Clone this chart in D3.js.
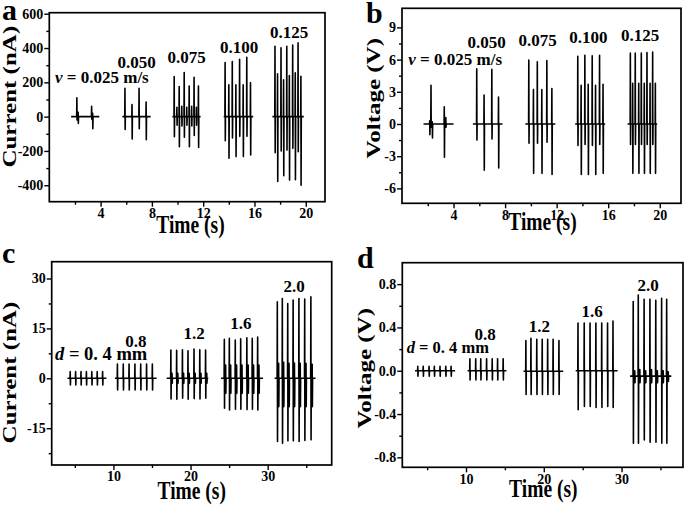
<!DOCTYPE html>
<html><head><meta charset="utf-8">
<script src="https://cdn.jsdelivr.net/npm/d3@7"></script>
<style>
body{margin:0;background:#fff}
svg text{font-family:"Liberation Serif","Times New Roman",serif !important;font-weight:bold;fill:#000}
</style>
</head><body>
<svg id="fig" width="685" height="506"></svg>
<script>
// ---------------- Panel a : current vs time, varying speed ----------------
const aLabels = ["v = 0.025 m/s", "0.050", "0.075", "0.100", "0.125"];
const aStart = [1.7, 5.7, 9.6, 13.6, 17.4];
const aEnd   = [3.9, 7.9, 11.8, 15.9, 19.85];
const aBase  = [0, 0, 0, 0, 0];
const aSpikeT = [
  [2.15, 2.25, 3.3, 3.38],
  [5.9, 6.45, 7.0, 7.55],
  [9.74, 9.95, 10.13, 10.33, 10.52, 10.72, 10.91, 11.1, 11.29, 11.47, 11.63],
  [13.71, 14.0, 14.27, 14.55, 14.84, 15.12, 15.4, 15.69],
  [17.6, 17.8, 18.07, 18.27, 18.52, 18.72, 18.98, 19.18, 19.4, 19.62]
];
const aSpikeHi = [
  [110, 25, 60, 20],
  [165, 70, 165, 85],
  [233, 55, 175, 60, 257, 55, 179, 60, 229, 55, 179],
  [315, 185, 321, 185, 334, 185, 346, 198],
  [410, 250, 402, 215, 410, 240, 418, 255, 430, 235]
];
const aSpikeLo = [
  [-20, -40, -15, -70],
  [-75, -130, -70, -135],
  [-117, -50, -175, -55, -120, -50, -175, -55, -110, -50, -180],
  [-140, -243, -125, -233, -115, -233, -115, -223],
  [-210, -378, -200, -345, -195, -370, -185, -368, -205, -400]
];
const aXTicks = [4, 8, 12, 16, 20];
const aXTickLabels = ["4", "8", "12", "16", "20"];
const aXMinor = [2, 6, 10, 14, 18];
const aYTicks = [-400, -200, 0, 200, 400, 600];
const aYTickLabels = ["-400", "-200", "0", "200", "400", "600"];
const aYMinor = [-300, -100, 100, 300, 500];

// ---------------- Panel b : voltage vs time, varying speed ----------------
const bLabels = ["v = 0.025 m/s", "0.050", "0.075", "0.100", "0.125"];
const bStart = [1.67, 5.5, 9.57, 13.44, 17.5];
const bEnd   = [4.0, 7.8, 11.9, 15.77, 19.8];
const bBase  = [0, 0, 0, 0, 0];
const bSpikeT = [
  [2.15, 2.25, 2.35, 3.28, 3.4],
  [5.8, 6.37, 6.97, 7.49],
  [9.84, 10.2, 10.5, 10.85, 11.24, 11.63],
  [13.64, 13.9, 14.19, 14.45, 14.76, 15.02, 15.33, 15.6],
  [17.72, 17.9, 18.1, 18.37, 18.57, 18.8, 19.01, 19.25, 19.45, 19.66]
];
const bSpikeHi = [
  [0.3, 3.6, 0.2, 1.6, 0.6],
  [5.15, 2.7, 5.1, 2.5],
  [5.95, 3.2, 5.8, 3.2, 5.9, 3.3],
  [6.3, 3.6, 6.4, 3.7, 6.35, 3.6, 6.4, 3.7],
  [6.6, 3.8, 6.6, 3.8, 6.6, 3.8, 6.65, 3.8, 6.7, 3.8]
];
const bSpikeLo = [
  [-1.0, -0.3, -1.3, -3.1, -0.3],
  [-1.5, -4.3, -1.4, -4.1],
  [-1.8, -4.6, -1.8, -4.6, -1.7, -4.7],
  [-2.0, -4.7, -1.9, -4.7, -2.0, -4.7, -1.9, -4.6],
  [-1.9, -4.6, -1.9, -4.6, -1.9, -4.6, -1.9, -4.6, -1.9, -4.6]
];
const bXTicks = [4, 8, 12, 16, 20];
const bXTickLabels = ["4", "8", "12", "16", "20"];
const bXMinor = [2, 6, 10, 14, 18];
const bYTicks = [-6, -3, 0, 3, 6, 9];
const bYTickLabels = ["-6", "-3", "0", "3", "6", "9"];
const bYMinor = [-4.5, -1.5, 1.5, 4.5, 7.5];

// ---------------- Panel c : current vs time, varying distance ----------------
const cLabels = ["d = 0. 4 mm", "0.8", "1.2", "1.6", "2.0"];
const cStart = [4.05, 10.2, 16.9, 23.95, 30.9];
const cEnd   = [9.1, 15.6, 22.3, 29.4, 36.2];
const cBase  = [0, 0, 0, 0, 0];
const cSpikeT = [
  [4.4, 5.1, 5.8, 6.5, 7.2, 7.9, 8.6],
  [10.52, 11.28, 12.03, 12.79, 13.54, 14.3, 15.05],
  [17.45, 17.6, 18.2, 18.35, 18.95, 19.1, 19.67, 19.82, 20.45, 20.6, 21.2, 21.35, 21.95, 22.1],
  [24.38, 24.55, 25.03, 25.2, 25.8, 25.97, 26.5, 26.67, 27.3, 27.47, 28.0, 28.17, 28.7, 28.87],
  [31.25, 31.42, 31.9, 32.07, 32.6, 32.77, 33.3, 33.47, 34.05, 34.22, 34.8, 34.97, 35.6, 35.77]
];
const cSpikeHi = [
  [2.0, 2.0, 2.0, 2.0, 2.0, 2.0, 2.0],
  [4.3, 4.3, 4.3, 4.3, 4.3, 4.3, 4.3],
  [8.5, 1.5, 8.4, 1.5, 8.6, 1.5, 8.3, 1.5, 8.8, 1.5, 8.6, 1.5, 8.5, 1.5],
  [11.7, 4.0, 12.0, 4.0, 11.5, 4.0, 11.9, 4.0, 12.2, 4.0, 12.0, 4.0, 12.4, 4.0],
  [23.0, 4.5, 24.0, 4.8, 22.5, 4.5, 23.5, 4.6, 24.0, 4.5, 23.8, 4.5, 24.5, 4.2]
];
const cSpikeLo = [
  [-2.0, -2.0, -2.0, -2.0, -2.0, -2.0, -2.0],
  [-3.5, -3.5, -3.5, -3.5, -3.5, -3.5, -3.5],
  [-6.2, -1.5, -6.3, -1.5, -6.0, -1.5, -6.3, -1.5, -6.1, -1.5, -6.2, -1.5, -6.0, -1.5],
  [-9.0, -4.5, -9.5, -4.5, -9.3, -4.5, -9.3, -4.5, -9.4, -4.5, -9.3, -4.5, -9.5, -4.5],
  [-19.0, -8.5, -19.5, -8.5, -18.8, -8.5, -18.8, -8.5, -19.0, -8.5, -18.7, -8.5, -18.5, -8.5]
];
const cXTicks = [10, 20, 30];
const cXTickLabels = ["10", "20", "30"];
const cXMinor = [5, 15, 25, 35];
const cYTicks = [-15, 0, 15, 30];
const cYTickLabels = ["-15", "0", "15", "30"];
const cYMinor = [-22.5, -7.5, 7.5, 22.5];

// ---------------- Panel d : voltage vs time, varying distance ----------------
const dLabels = ["d = 0. 4 mm", "0.8", "1.2", "1.6", "2.0"];
const dStart = [3.45, 10.2, 17.4, 24.1, 31.1];
const dEnd   = [8.6, 15.2, 22.5, 29.5, 36.4];
const dBase  = [0, 0, -0.005, 0, -0.05];
const dSpikeT = [
  [3.8, 4.5, 5.25, 5.93, 6.66, 7.4, 8.08],
  [10.5, 11.25, 11.9, 12.65, 13.37, 14.06, 14.78],
  [17.7, 18.35, 19.1, 19.8, 20.5, 21.2, 21.95],
  [24.4, 25.2, 25.95, 26.7, 27.45, 28.2, 28.9],
  [31.5, 31.7, 32.15, 32.35, 32.9, 33.1, 33.65, 33.85, 34.4, 34.6, 35.15, 35.35, 35.8, 36.0]
];
const dSpikeHi = [
  [0.04, 0.04, 0.04, 0.04, 0.04, 0.04, 0.04],
  [0.11, 0.11, 0.11, 0.11, 0.11, 0.11, 0.11],
  [0.28, 0.30, 0.29, 0.29, 0.29, 0.29, 0.28],
  [0.44, 0.44, 0.44, 0.44, 0.44, 0.44, 0.46],
  [0.64, 0.0, 0.70, 0.01, 0.66, 0.0, 0.66, 0.01, 0.65, 0.0, 0.67, 0.0, 0.66, -0.01]
];
const dSpikeLo = [
  [-0.05, -0.05, -0.05, -0.05, -0.05, -0.05, -0.05],
  [-0.085, -0.085, -0.085, -0.085, -0.085, -0.085, -0.085],
  [-0.22, -0.22, -0.22, -0.22, -0.22, -0.22, -0.22],
  [-0.36, -0.33, -0.33, -0.34, -0.34, -0.33, -0.34],
  [-0.67, -0.11, -0.67, -0.11, -0.64, -0.11, -0.66, -0.11, -0.66, -0.11, -0.67, -0.11, -0.67, -0.1]
];
const dXTicks = [10, 20, 30];
const dXTickLabels = ["10", "20", "30"];
const dXMinor = [5, 15, 25, 35];
const dYTicks = [-0.8, -0.4, 0.0, 0.4, 0.8];
const dYTickLabels = ["-0.8", "-0.4", "0.0", "0.4", "0.8"];
const dYMinor = [-0.6, -0.2, 0.2, 0.6];

// ---------------- layout / options built from the arrays ----------------
const panels = [
  {letter:"a", letterPos:[2,20], frame:[49.3,325,12.7,201.7], xDom:[0,21.5], yDom:[-496,606],
   start:aStart, end:aEnd, base:aBase, T:aSpikeT, H:aSpikeHi, L:aSpikeLo,
   xT:aXTicks, xTL:aXTickLabels, xM:aXMinor, yT:aYTicks, yTL:aYTickLabels, yM:aYMinor,
   labels:aLabels, labelPos:[[55,83.3],[136.7,68.3],[186.7,63.3],[239,52.7],[289,38.3]], lab0Size:17,
   xTitle:"Time (s)", xTitlePos:[190.5,233.3], yTitle:"Current (nA)", yTitlePos:[16,96.7]},
  {letter:"b", letterPos:[366,23], frame:[402,681,8.3,203.3], xDom:[0,21.65], yDom:[-7.39,10.78],
   start:bStart, end:bEnd, base:bBase, T:bSpikeT, H:bSpikeHi, L:bSpikeLo,
   xT:bXTicks, xTL:bXTickLabels, xM:bXMinor, yT:bYTicks, yTL:bYTickLabels, yM:bYMinor,
   labels:bLabels, labelPos:[[408.3,65],[486.7,48.3],[537.7,46],[588.3,42.7],[640,40.7]], lab0Size:17,
   xTitle:"Time (s)", xTitlePos:[542.5,230], yTitle:"Voltage (V)", yTitlePos:[380,98.3]},
  {letter:"c", letterPos:[2,263], frame:[51.7,331.7,261.7,465], xDom:[2,38.3], yDom:[-26.06,35.05],
   start:cStart, end:cEnd, base:cBase, T:cSpikeT, H:cSpikeHi, L:cSpikeLo,
   xT:cXTicks, xTL:cXTickLabels, xM:cXMinor, yT:cYTicks, yTL:cYTickLabels, yM:cYMinor,
   labels:cLabels, labelPos:[[55,360],[135.8,346.7],[194.2,339.3],[240.8,329.3],[294.2,292.3]], lab0Size:18.5,
   xTitle:"Time (s)", xTitlePos:[191.7,499], yTitle:"Current (nA)", yTitlePos:[16,372.5]},
  {letter:"d", letterPos:[357,268], frame:[402.3,683,262.7,467.3], xDom:[1.81,37.9], yDom:[-0.892,0.998],
   start:dStart, end:dEnd, base:dBase, T:dSpikeT, H:dSpikeHi, L:dSpikeLo,
   xT:dXTicks, xTL:dXTickLabels, xM:dXMinor, yT:dYTicks, yTL:dYTickLabels, yM:dYMinor,
   labels:dLabels, labelPos:[[406.7,353.3],[485,340],[539.3,331.7],[592,316.7],[648,290.7]], lab0Size:16.5,
   xTitle:"Time (s)", xTitlePos:[543.3,497], yTitle:"Voltage (V)", yTitlePos:[371,368.3]}
];

const FONT = '"Liberation Serif","Times New Roman",serif';
const svg = d3.select("#fig");

panels.forEach(p => {
  const [L, R, T, B] = p.frame;
  const x = d3.scaleLinear().domain(p.xDom).range([L, R]);
  const y = d3.scaleLinear().domain(p.yDom).range([B, T]);
  const g = svg.append("g");

  // traces
  const dt = (p.xDom[1] - p.xDom[0]) * 0.0007;
  const line = d3.line().x(d => x(d[0])).y(d => y(d[1]));
  p.start.forEach((s, gi) => {
    const b = p.base[gi];
    const pts = [[s, b]];
    p.T[gi].forEach((t, k) => {
      pts.push([t - dt, b], [t, p.H[gi][k]], [t + dt, p.L[gi][k]], [t + 2 * dt, b]);
    });
    pts.push([p.end[gi], b]);
    g.append("path").attr("d", line(pts)).attr("fill", "none")
      .attr("stroke", "#000").attr("stroke-width", 1.6).attr("stroke-linejoin", "round");
  });

  // frame
  g.append("rect").attr("x", L).attr("y", T).attr("width", R - L).attr("height", B - T)
    .attr("fill", "none").attr("stroke", "#000").attr("stroke-width", 1.7);

  // axes
  const styleAxis = sel => {
    sel.select(".domain").remove();
    sel.attr("font-family", null).attr("font-size", null);
    sel.selectAll("line").attr("stroke", "#000").attr("stroke-width", 1.4);
    sel.selectAll("text").attr("font-size", 14).attr("fill", "#000")
      .style("font-family", FONT).style("font-weight", "bold");
  };
  g.append("g").attr("transform", `translate(0,${B})`)
    .call(d3.axisBottom(x).tickValues(p.xT).tickFormat((d, i) => p.xTL[i]).tickSizeInner(5).tickSizeOuter(0).tickPadding(1.5))
    .call(styleAxis);
  g.append("g").attr("transform", `translate(0,${B})`)
    .call(d3.axisBottom(x).tickValues(p.xM).tickFormat("").tickSizeInner(3).tickSizeOuter(0))
    .call(styleAxis);
  g.append("g").attr("transform", `translate(${L},0)`)
    .call(d3.axisLeft(y).tickValues(p.yT).tickFormat((d, i) => p.yTL[i]).tickSizeInner(5).tickSizeOuter(0).tickPadding(1))
    .call(styleAxis);
  g.append("g").attr("transform", `translate(${L},0)`)
    .call(d3.axisLeft(y).tickValues(p.yM).tickFormat("").tickSizeInner(3).tickSizeOuter(0))
    .call(styleAxis);

  // group labels
  p.labels.forEach((lab, i) => {
    const [lx, ly] = p.labelPos[i];
    const t = g.append("text").attr("x", lx).attr("y", ly)
      .attr("font-size", i === 0 ? p.lab0Size : 17)
      .attr("text-anchor", i === 0 ? "start" : "middle");
    if (i === 0) {
      t.append("tspan").attr("font-style", "italic").text(lab[0]);
      t.append("tspan").text(lab.slice(1));
    } else t.text(lab);
  });

  // axis titles
  g.append("text").attr("transform", `translate(${p.xTitlePos[0]},${p.xTitlePos[1]}) scale(0.78,1)`)
    .attr("text-anchor", "middle").attr("font-size", 25).text(p.xTitle);
  g.append("text").attr("transform", `translate(${p.yTitlePos[0]},${p.yTitlePos[1]}) scale(0.78,1) rotate(-90)`)
    .attr("text-anchor", "middle").attr("font-size", 25).text(p.yTitle);

  // panel letter
  g.append("text").attr("x", p.letterPos[0]).attr("y", p.letterPos[1])
    .attr("font-size", 30).text(p.letter);
});
</script>
</body></html>
